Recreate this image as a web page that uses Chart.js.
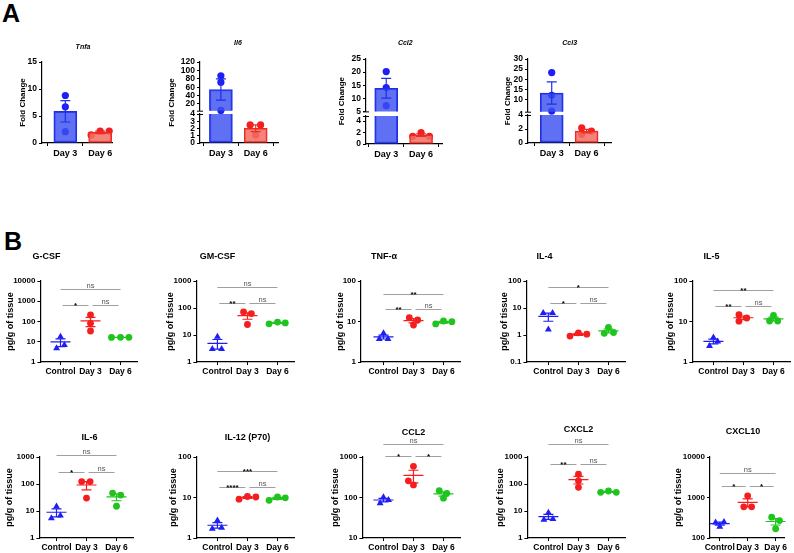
<!DOCTYPE html>
<html>
<head>
<meta charset="utf-8">
<script src="https://cdn.jsdelivr.net/npm/chart.js@4.4.1/dist/chart.umd.min.js"></script>
<style>
  body { margin: 0; background: #fff; width: 794px; height: 553px; position: relative; overflow: hidden; }
  canvas { position: absolute; }
  .panel { position: absolute; font: bold 25px "Liberation Sans", Arial, sans-serif; line-height: 1; }
</style>
</head>
<body>
<div class="panel" style="left:2px;top:1px">A</div>
<div class="panel" style="left:4px;top:229px">B</div>
<script>
// ---------- Panel A: fold change (qPCR) ----------
const dayLabels = ["Day 3", "Day 6"];

const tnfaDay3 = [8.8, 6.7, 2.1];
const tnfaDay6 = [1.5, 2.2, 2.2];
const il6Day3 = [87, 72, 4.6];
const il6Day6 = [2.5, 2.5, 1.1];
const ccl2Day3 = [20.2, 14.1, 7.2];
const ccl2Day6 = [1.35, 2.0, 1.35];
const ccl3Day3 = [23.3, 12.1, 4.3];
const ccl3Day6 = [2.15, 1.24, 1.7];

// horizontal spread of the dots (in group widths)
const tnfaJitter = [[0, 0, 0], [-0.26, 0, 0.26]];
const il6Jitter = [[0, 0, 0], [-0.16, 0.14, 0]];
const ccl2Jitter = [[0, 0, 0], [-0.24, 0, 0.24]];
const ccl3Jitter = [[0, 0, 0], [-0.14, -0.14, 0.14]];

const tnfaTicks = [0, 5, 10, 15];
const il6TicksHigh = [20, 40, 60, 80, 100, 120];
const il6TicksLow = [0, 1, 2, 3, 4];
const ccl2TicksHigh = [5, 10, 15, 20, 25];
const ccl2TicksLow = [0, 2, 4];
const ccl3TicksHigh = [10, 15, 20, 25, 30];
const ccl3TicksLow = [0, 2, 4];

// ---------- Panel B: cytokines (pg/g of tissue) ----------
const groupLabels = ["Control", "Day 3", "Day 6"];

const gcsfControl = [4.8, 17.8, 6.9];
const gcsfDay3 = [209, 81, 34];
const gcsfDay6 = [16.3, 16.6, 16.6];
const gmcsfControl = [3.0, 8.7, 3.0];
const gmcsfDay3 = [71, 62, 24.5];
const gmcsfDay6 = [26, 30, 28];
const tnfControl = [3.7, 5.1, 3.7];
const tnfDay3 = [12.4, 10.9, 8.2];
const tnfDay6 = [8.7, 10.3, 9.9];
const il4Control = [6.5, 6.5, 1.6];
const il4Day3 = [0.91, 1.2, 1.07];
const il4Day6 = [1.15, 1.9, 1.24];
const il5Control = [2.5, 4.0, 3.2];
const il5Day3 = [14.7, 12.2, 10.2];
const il5Day6 = [10.3, 14.1, 10.3];
const il6bControl = [5.4, 14.8, 6.8];
const il6bDay3 = [123, 123, 30];
const il6bDay6 = [46, 39, 15];
const il12Control = [1.7, 2.7, 1.8];
const il12Day3 = [9.1, 10.6, 10.3];
const il12Day6 = [8.5, 10.3, 9.8];
const ccl2bControl = [72, 101, 87];
const ccl2bDay3 = [590, 258, 204];
const ccl2bDay6 = [147, 127, 96];
const cxcl2Control = [4.7, 8.7, 5.1];
const cxcl2Day3 = [230, 131, 75];
const cxcl2Day6 = [49, 55, 49];
const cxcl10Control = [240, 190, 250];
const cxcl10Day3 = [1100, 590, 590];
const cxcl10Day6 = [327, 270, 169];

const gcsfJitter = [[-0.13, 0, 0.13], [0, 0, 0], [-0.3, 0, 0.28]];
const gmcsfJitter = [[-0.17, 0, 0.14], [-0.13, 0.13, 0], [-0.28, 0, 0.26]];
const tnfJitter = [[-0.14, 0, 0.15], [-0.14, 0.14, 0], [-0.26, 0, 0.28]];
const il4Jitter = [[-0.17, 0.14, 0], [-0.28, 0, 0.28], [-0.14, 0, 0.17]];
const il5Jitter = [[-0.13, 0, 0.14], [-0.15, 0.11, -0.15], [-0.13, 0, 0.14]];
const il6bJitter = [[-0.17, 0, 0.13], [-0.16, 0.12, 0], [-0.13, 0.14, 0]];
const il12Jitter = [[-0.17, 0, 0.14], [-0.28, 0, 0.28], [-0.28, 0, 0.26]];
const ccl2bJitter = [[-0.11, 0, 0.17], [0, -0.17, 0], [-0.14, 0.11, 0]];
const cxcl2Jitter = [[-0.15, 0, 0.15], [0, 0, 0], [-0.26, 0, 0.26]];
const cxcl10Jitter = [[-0.15, 0, 0.15], [0, -0.14, 0.14], [-0.14, 0.14, 0]];

const ticks1to10000 = [1, 10, 100, 1000, 10000];
const ticks1to1000 = [1, 10, 100, 1000];
const ticks1to100 = [1, 10, 100];
const ticks01to100 = [0.1, 1, 10, 100];
const ticks10to1000 = [10, 100, 1000];
const ticks100to10000 = [100, 1000, 10000];

// significance bars: [from group, to group, height, label]
const gcsfSig = [[0, 2, 3900, "ns"], [0, 1, 650, "*"], [1, 2, 650, "ns"]];
const gmcsfSig = [[0, 2, 620, "ns"], [0, 1, 156, "**"], [1, 2, 156, "ns"]];
const tnfSig = [[0, 2, 49, "**"], [0, 1, 20.3, "**"], [1, 2, 20.3, "ns"]];
const il4Sig = [[0, 2, 58, "*"], [0, 1, 15.5, "*"], [1, 2, 15.5, "ns"]];
const il5Sig = [[0, 2, 59, "**"], [0, 1, 24.7, "**"], [1, 2, 24.7, "ns"]];
const il6bSig = [[0, 2, 1150, "ns"], [0, 1, 273, "*"], [1, 2, 273, "ns"]];
const il12Sig = [[0, 2, 44.6, "***"], [0, 1, 18, "****"], [1, 2, 18, "ns"]];
const ccl2bSig = [[0, 2, 2040, "ns"], [0, 1, 1050, "*"], [1, 2, 1050, "*"]];
const cxcl2Sig = [[0, 2, 2950, "ns"], [0, 1, 540, "**"], [1, 2, 540, "ns"]];
const cxcl10Sig = [[0, 2, 4050, "ns"], [0, 1, 1910, "*"], [1, 2, 1910, "*"]];

// ---------- helpers ----------
const FONT = '"Liberation Sans", Arial, sans-serif';
Chart.defaults.font.family = FONT;
Chart.defaults.color = "#000";

const pointColors = ["#1e1ef5", "#f51e1e", "#1fc41f"];
const barFill = ["rgba(60, 80, 240, 0.82)", "rgba(242, 110, 100, 0.85)"];
const barLine = ["#1f2fe8", "#ee2a22"];

function mean(a) {
  return a.reduce((s, v) => s + v, 0) / a.length;
}
function sem(a) {
  const m = mean(a);
  const sd = Math.sqrt(a.reduce((s, v) => s + (v - m) * (v - m), 0) / (a.length - 1));
  return sd / Math.sqrt(a.length);
}

const errorBars = {
  id: "errorBars",
  afterDatasetsDraw(chart, args, o) {
    if (!o.groups) return;
    const { ctx, chartArea: a, scales: { x, y } } = chart;
    ctx.save();
    ctx.beginPath();
    ctx.rect(a.left - 30, a.top, a.right - a.left + 60, a.bottom - a.top);
    ctx.clip();
    ctx.lineWidth = 1.2;
    o.groups.forEach((vals, g) => {
      const m = mean(vals), e = sem(vals);
      if (m < y.min || m > y.max) return;
      const cx = x.getPixelForValue(g);
      const yt = y.getPixelForValue(m + e);
      const yb = y.getPixelForValue(m - e);
      const ym = y.getPixelForValue(m);
      ctx.strokeStyle = o.colors[g];
      ctx.beginPath();
      ctx.moveTo(cx, yt); ctx.lineTo(cx, yb);
      ctx.moveTo(cx - o.cap, yt); ctx.lineTo(cx + o.cap, yt);
      ctx.moveTo(cx - o.cap, yb); ctx.lineTo(cx + o.cap, yb);
      if (o.meanWidth) {
        ctx.moveTo(cx - o.meanWidth, ym); ctx.lineTo(cx + o.meanWidth, ym);
      }
      ctx.stroke();
    });
    ctx.restore();
  }
};

const sigBars = {
  id: "sigBars",
  afterDraw(chart, args, o) {
    if (!o.bars) return;
    const { ctx, scales: { x, y } } = chart;
    ctx.save();
    ctx.textAlign = "center";
    ctx.textBaseline = "alphabetic";
    o.bars.forEach(([from, to, val, label]) => {
      const cut = to - from === 1 ? 2 : 0;
      const x1 = x.getPixelForValue(from) + cut;
      const x2 = x.getPixelForValue(to) - cut;
      const yy = Math.round(y.getPixelForValue(val)) + 0.5;
      ctx.strokeStyle = "#a0a0a0";
      ctx.lineWidth = 1;
      ctx.beginPath(); ctx.moveTo(x1, yy); ctx.lineTo(x2, yy); ctx.stroke();
      if (label === "ns") {
        ctx.font = "7.5px " + FONT;
        ctx.fillStyle = "#555";
        ctx.fillText(label, (x1 + x2) / 2, yy - 2);
      } else {
        ctx.font = "bold 8px " + FONT;
        ctx.fillStyle = "#000";
        ctx.fillText(label, (x1 + x2) / 2, yy + 2.5);
      }
    });
    ctx.restore();
  }
};

const panelText = {
  id: "panelText",
  afterDraw(chart, args, o) {
    const { ctx, chartArea: a } = chart;
    ctx.save();
    ctx.fillStyle = "#000";
    ctx.textAlign = "center";
    ctx.textBaseline = "middle";
    if (o.title) {
      ctx.font = o.titleFont;
      ctx.fillText(o.title, a.left + o.dx, a.top - o.dy);
    }
    if (o.side) {
      ctx.font = "bold 8px " + FONT;
      ctx.translate(a.left - o.side.dx, o.side.y);
      ctx.rotate(-Math.PI / 2);
      ctx.fillText(o.side.text, 0, 0);
      ctx.setTransform(1, 0, 0, 1, 0, 0);
    }
    if (o.breakAt) {
      ctx.strokeStyle = "#000";
      ctx.lineWidth = 1;
      const yb = o.breakAt === "bottom" ? a.bottom : a.top;
      ctx.beginPath();
      ctx.moveTo(a.left - 3, yb + 0.5); ctx.lineTo(a.left + 3, yb + 0.5);
      ctx.stroke();
    }
    ctx.restore();
  }
};

function makeCanvas(left, top, w, h) {
  const c = document.createElement("canvas");
  c.width = Math.round(w);
  c.height = Math.round(h);
  c.style.left = Math.round(left) + "px";
  c.style.top = Math.round(top) + "px";
  document.body.appendChild(c);
  return c;
}

function axisStyle() {
  return {
    grid: { drawOnChartArea: false, drawTicks: true, tickLength: 3, color: "#000", lineWidth: 1 },
    border: { color: "#000", width: 1.2 }
  };
}

// ---------- Panel A charts ----------
function foldChart(cfg) {
  const groups = [cfg.day3, cfg.day6];
  const segs = cfg.segments;
  const spacing = 35;
  const areaW = (cfg.xMax - cfg.xMin) * spacing;
  const lastBottom = segs[segs.length - 1].bottom;
  segs.forEach((seg, s) => {
    const first = s === 0;
    const last = s === segs.length - 1;
    const padTop = first ? 30 : 8;
    const padBottom = last ? 0 : lastBottom - seg.bottom + 14;
    const xh = last ? 20 : 0;
    const padRight = 8;
    const canvas = makeCanvas(cfg.axisX - cfg.yw, seg.top - padTop,
      cfg.yw + areaW + padRight, padTop + (seg.bottom - seg.top) + xh + padBottom);

    const pointSets = groups.map((vals, g) => ({
      type: "scatter",
      data: vals
        .map((v, k) => ({ x: g + cfg.jitter[g][k], y: v }))
        .filter((p) => segs.findIndex((q) => p.y >= q.min) === s),
      pointStyle: "circle",
      pointRadius: 3.6,
      backgroundColor: pointColors[g],
      borderWidth: 0,
      clip: false
    }));

    const broken = segs.length > 1;
    new Chart(canvas, {
      type: "bar",
      data: {
        datasets: [{
          type: "bar",
          data: groups.map((vals, g) => ({ x: g, y: mean(vals) })),
          backgroundColor: barFill,
          borderColor: barLine,
          borderWidth: 1.4,
          borderSkipped: false,
          barThickness: 23
        }, ...pointSets]
      },
      options: {
        responsive: false,
        animation: false,
        devicePixelRatio: 1,
        layout: { padding: { top: padTop, right: padRight, bottom: padBottom, left: 0 } },
        plugins: {
          legend: { display: false },
          tooltip: { enabled: false },
          errorBars: { groups: groups, colors: barLine, cap: 5, meanWidth: 0 },
          panelText: {
            title: first ? cfg.title : null,
            titleFont: "italic bold 7px " + FONT,
            dx: cfg.titleDx, dy: cfg.titleDy,
            side: broken && first ? { text: "Fold Change", dx: cfg.yw - 9.4, y: padTop + (lastBottom - seg.top) / 2 } : null,
            breakAt: broken ? (first ? "bottom" : "top") : null
          }
        },
        scales: {
          x: {
            type: "linear",
            display: last,
            offset: false,
            min: cfg.xMin,
            max: cfg.xMax,
            afterBuildTicks: (sc) => { sc.ticks = [0, 1].map((v) => ({ value: v })); },
            afterFit: (sc) => { sc.height = xh; },
            ticks: { callback: (v) => dayLabels[v], font: { size: 9, weight: "bold" }, padding: 2, maxRotation: 0, autoSkip: false },
            ...axisStyle()
          },
          y: {
            type: "linear",
            min: seg.min,
            max: seg.max,
            afterBuildTicks: (sc) => { sc.ticks = seg.ticks.map((v) => ({ value: v })); },
            afterFit: (sc) => { sc.width = cfg.yw; },
            ticks: { callback: (v) => String(v), font: { size: 8.5, weight: "bold" }, padding: 2, autoSkip: false },
            title: { display: !broken, text: "Fold Change", font: { size: 8, weight: "bold" } },
            ...axisStyle()
          }
        }
      },
      plugins: [errorBars, panelText]
    });
  });
}

foldChart({
  title: "Tnfa", day3: tnfaDay3, day6: tnfaDay6, jitter: tnfaJitter,
  axisX: 42, yw: 28, xMin: -0.67, xMax: 1.34, titleDx: 41, titleDy: 15,
  segments: [{ min: 0, max: 15, ticks: tnfaTicks, top: 62, bottom: 143 }]
});
foldChart({
  title: "Il6", day3: il6Day3, day6: il6Day6, jitter: il6Jitter,
  axisX: 199.5, yw: 38, xMin: -0.6, xMax: 1.64, titleDx: 38, titleDy: 19,
  segments: [
    { min: 4, max: 120, ticks: il6TicksHigh, top: 62, bottom: 110.7 },
    { min: 0, max: 4, ticks: il6TicksLow, top: 114, bottom: 143 }
  ]
});
foldChart({
  title: "Ccl2", day3: ccl2Day3, day6: ccl2Day6, jitter: ccl2Jitter,
  axisX: 365.7, yw: 34, xMin: -0.58, xMax: 1.6, titleDx: 39.3, titleDy: 16,
  segments: [
    { min: 5, max: 25, ticks: ccl2TicksHigh, top: 59, bottom: 111.7 },
    { min: 0, max: 4.9, ticks: ccl2TicksLow, top: 115.5, bottom: 143.3 }
  ]
});
foldChart({
  title: "Ccl3", day3: ccl3Day3, day6: ccl3Day6, jitter: ccl3Jitter,
  axisX: 528.3, yw: 30, xMin: -0.68, xMax: 1.7, titleDx: 41.7, titleDy: 16,
  segments: [
    { min: 4, max: 30, ticks: ccl3TicksHigh, top: 59.3, bottom: 112 },
    { min: 0, max: 4, ticks: ccl3TicksLow, top: 115, bottom: 143.3 }
  ]
});

// ---------- Panel B charts ----------
function cytokineChart(cfg) {
  const groups = [cfg.control, cfg.day3, cfg.day6];
  const spacing = cfg.spacing || 30;
  const padTop = 34, padRight = 6, xh = 20;
  const xMax = cfg.xMax || 2.55;
  const areaW = (xMax - cfg.xMin) * spacing;
  const canvas = makeCanvas(cfg.axisX - cfg.yw, cfg.top - padTop,
    cfg.yw + areaW + padRight, padTop + (cfg.bottom - cfg.top) + xh);

  new Chart(canvas, {
    type: "scatter",
    data: {
      datasets: groups.map((vals, g) => ({
        data: vals.map((v, k) => ({ x: g + cfg.jitter[g][k], y: v })),
        pointStyle: g === 0 ? "triangle" : "circle",
        pointRadius: g === 0 ? 4 : 3.4,
        backgroundColor: pointColors[g],
        borderColor: pointColors[g],
        borderWidth: 0,
        clip: false
      }))
    },
    options: {
      responsive: false,
      animation: false,
      devicePixelRatio: 1,
      layout: { padding: { top: padTop, right: padRight, bottom: 0, left: 0 } },
      plugins: {
        legend: { display: false },
        tooltip: { enabled: false },
        errorBars: { groups: groups, colors: pointColors, cap: 5, meanWidth: 10 },
        sigBars: { bars: cfg.sig },
        panelText: { title: cfg.title, titleFont: "bold 9px " + FONT, dx: cfg.titleDx, dy: cfg.titleDy }
      },
      scales: {
        x: {
          type: "linear",
          min: cfg.xMin,
          max: xMax,
          afterBuildTicks: (sc) => { sc.ticks = [0, 1, 2].map((v) => ({ value: v })); },
          afterFit: (sc) => { sc.height = xh; },
          ticks: { callback: (v) => groupLabels[v], font: { size: 8.5, weight: "bold" }, padding: 2, maxRotation: 0, autoSkip: false },
          ...axisStyle()
        },
        y: {
          type: "logarithmic",
          min: cfg.ticks[0],
          max: cfg.ticks[cfg.ticks.length - 1],
          afterBuildTicks: (sc) => { sc.ticks = cfg.ticks.map((v) => ({ value: v })); },
          afterFit: (sc) => { sc.width = cfg.yw; },
          ticks: { callback: (v) => String(v), font: { size: 8, weight: "bold" }, padding: 2, autoSkip: false },
          title: { display: true, text: "pg/g of tissue", font: { size: 9, weight: "bold" } },
          ...axisStyle()
        }
      }
    },
    plugins: [errorBars, sigBars, panelText]
  });
}

const row1 = { top: 281, bottom: 362.3 };
const row2 = { top: 456.7, bottom: 538 };

cytokineChart({ title: "G-CSF", control: gcsfControl, day3: gcsfDay3, day6: gcsfDay6, jitter: gcsfJitter,
  ticks: ticks1to10000, sig: gcsfSig, axisX: 40, xMin: -0.67, yw: 39.4, titleDx: 6, titleDy: 24, ...row1 });
cytokineChart({ title: "GM-CSF", control: gmcsfControl, day3: gmcsfDay3, day6: gmcsfDay6, jitter: gmcsfJitter,
  ticks: ticks1to1000, sig: gmcsfSig, axisX: 196, xMin: -0.7, yw: 35.4, titleDx: 21, titleDy: 24, ...row1 });
cytokineChart({ title: "TNF-\u03b1", control: tnfControl, day3: tnfDay3, day6: tnfDay6, jitter: tnfJitter,
  ticks: ticks1to100, sig: tnfSig, axisX: 360.5, xMin: -0.75, yw: 30, titleDx: 23, titleDy: 24, ...row1 });
cytokineChart({ title: "IL-4", control: il4Control, day3: il4Day3, day6: il4Day6, jitter: il4Jitter,
  ticks: ticks01to100, sig: il4Sig, axisX: 526, xMin: -0.73, yw: 31.4, titleDx: 18, titleDy: 24, ...row1 });
cytokineChart({ title: "IL-5", control: il5Control, day3: il5Day3, day6: il5Day6, jitter: il5Jitter,
  ticks: ticks1to100, sig: il5Sig, axisX: 692, xMin: -0.7, yw: 31.4, titleDx: 19, titleDy: 24, ...row1 });

cytokineChart({ title: "IL-6", control: il6bControl, day3: il6bDay3, day6: il6bDay6, jitter: il6bJitter,
  ticks: ticks1to1000, sig: il6bSig, axisX: 39.3, xMin: -0.57, yw: 39.4, titleDx: 50, titleDy: 19, ...row2 });
cytokineChart({ title: "IL-12 (P70)", control: il12Control, day3: il12Day3, day6: il12Day6, jitter: il12Jitter,
  ticks: ticks1to100, sig: il12Sig, axisX: 196, xMin: -0.7, yw: 32.4, titleDx: 51, titleDy: 19, ...row2 });
cytokineChart({ title: "CCL2", control: ccl2bControl, day3: ccl2bDay3, day6: ccl2bDay6, jitter: ccl2bJitter,
  ticks: ticks10to1000, sig: ccl2bSig, axisX: 362, xMin: -0.7, yw: 36.4, titleDx: 51, titleDy: 24, ...row2 });
cytokineChart({ title: "CXCL2", control: cxcl2Control, day3: cxcl2Day3, day6: cxcl2Day6, jitter: cxcl2Jitter,
  ticks: ticks1to1000, sig: cxcl2Sig, axisX: 527, xMin: -0.7, yw: 36.4, titleDx: 51, titleDy: 27.4, ...row2 });
cytokineChart({ title: "CXCL10", control: cxcl10Control, day3: cxcl10Day3, day6: cxcl10Day6, jitter: cxcl10Jitter,
  ticks: ticks100to10000, sig: cxcl10Sig, axisX: 710, xMin: -0.35, xMax: 2.3, spacing: 28, yw: 41, titleDx: 33, titleDy: 25, ...row2 });
</script>
</body>
</html>
